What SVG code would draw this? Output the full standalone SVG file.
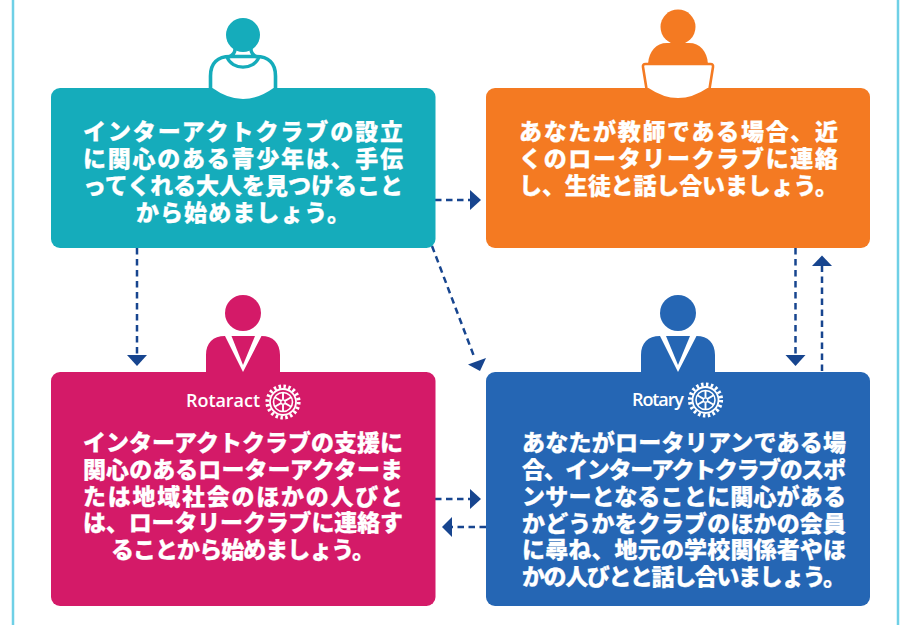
<svg xmlns="http://www.w3.org/2000/svg" width="912" height="625" viewBox="0 0 912 625">
<style>
.t{font-family:"Noto Sans CJK JP","Noto Sans",sans-serif;font-weight:900;font-size:23px;fill:#fff;stroke:#fff;stroke-width:.25}
.m{text-anchor:middle}
.l{font-family:"Open Sans","Liberation Sans",sans-serif;font-weight:600;font-size:18px;fill:#fff}
.c{fill:none;stroke:#17458f;stroke-width:2.5;stroke-dasharray:6.5 4.5}
.h{fill:#17458f}
</style>
<defs>
<g id="gear" fill="none" stroke="#fff">
<circle r="15.6" stroke-width="4" stroke-dasharray="2.45 2.45"/>
<circle r="13" stroke-width="1.8"/>
<circle r="9.5" stroke-width="1.6"/>
<circle r="2.2" stroke-width="1.3"/>
<path d="M0-9.5V-2.2M0 9.5V2.2M-8.2-4.7-1.9-1.1M8.2-4.7 1.9-1.1M-8.2 4.7-1.9 1.1M8.2 4.7 1.9 1.1" stroke-width="1.9"/>
</g>
</defs>
<rect x="13" y="-20" width="885" height="680" rx="8" fill="none" stroke="#6fd0e6" stroke-width="2.5"/>
<g id="connectors">
<path class="c" d="M435 200H470"/><path class="h" d="M470 190L481 200L470 210Z"/>
<path class="c" d="M432 246L475 359"/><path class="h" d="M468 364.500L486 358L480 371Z"/>
<path class="c" d="M137 248V355"/><path class="h" d="M127 355H147L137 366Z"/>
<path class="c" d="M795.500 248V355"/><path class="h" d="M785.500 355H805.500L795.500 366Z"/>
<path class="c" d="M822 371V266"/><path class="h" d="M812 266H832L822 255.500Z"/>
<path class="c" d="M435 499H470"/><path class="h" d="M470 489L481 499L470 509Z"/>
<path class="c" d="M486 527H452"/><path class="h" d="M452 517L442 527L452 537Z"/>
</g>
<g id="teal">
<path d="M210.500 90V76C210.500 63 218 56.500 230 56.500H256C268 56.500 275.500 63 275.500 76V90" fill="#fff" stroke="#15acbb" stroke-width="3.6"/>
<path d="M227 57C232 70.500 254 70.500 259 57" fill="none" stroke="#15acbb" stroke-width="3.4"/>
<path d="M235 48Q235.500 54 229 57M251 48Q250.500 54 257 57" fill="none" stroke="#15acbb" stroke-width="3.4"/>
<circle cx="243" cy="35" r="17" fill="#15acbb"/>
<rect x="51" y="88" width="384.500" height="160" rx="9" fill="#15acbb"/>
<path d="M212.500 88Q243 110 273.500 88Z" fill="#fff"/>
<text class="t" x="83" y="140" textLength="320">インターアクトクラブの設立</text>
<text class="t" x="83" y="167" textLength="320">に関心のある青少年は、手伝</text>
<text class="t" x="83" y="194" textLength="320">ってくれる大人を見つけること</text>
<text class="t m" x="243" y="221" textLength="214">から始めましょう。</text>
</g>
<g id="orange">
<circle cx="678" cy="27" r="17.500" fill="#f47a22"/>
<path d="M648 64C649 51 656 43 667 43H689C700 43 707 51 708 64Z" fill="#f47a22"/>
<path d="M645.500 64H710.500Q713.500 64 713 67L709 92H647L643 67Q642.500 64 645.500 64Z" fill="#fff" stroke="#f47a22" stroke-width="2.6"/>
<rect x="486" y="88" width="384" height="160" rx="9" fill="#f47a22"/>
<path d="M648.500 88Q678 108 707.500 88Z" fill="#fff"/>
<text class="t" x="519" y="140" textLength="319">あなたが教師である場合、近</text>
<text class="t" x="519" y="167" textLength="319">くのロータリークラブに連絡</text>
<text class="t" x="519" y="194" textLength="319">し、生徒と話し合いましょう。</text>
</g>
<g id="magenta">
<circle cx="243" cy="313" r="18" fill="#d41a68"/>
<path d="M206 373V355C206 343 213 336 225 336L243 372L261.500 336C273 336 280 343 280 355V373Z" fill="#d41a68"/>
<path d="M231.500 336H255L243 365Z" fill="#d41a68"/>
<rect x="51" y="372" width="384.500" height="234" rx="9" fill="#d41a68"/>
<text class="l" x="186" y="407" textLength="74">Rotaract</text>
<use href="#gear" x="283" y="402"/>
<text class="t" x="83" y="451" textLength="320">インターアクトクラブの支援に</text>
<text class="t" x="83" y="478" textLength="320">関心のあるローターアクターま</text>
<text class="t" x="83" y="504.500" textLength="320">たは地域社会のほかの人びと</text>
<text class="t" x="83" y="531" textLength="320">は、ロータリークラブに連絡す</text>
<text class="t m" x="243" y="558" textLength="264">ることから始めましょう。</text>
</g>
<g id="blue">
<circle cx="678" cy="313" r="18" fill="#2566b4"/>
<path d="M641 373V355C641 343 648 336 660 336L678 372L696.500 336C708 336 715 343 715 355V373Z" fill="#2566b4"/>
<path d="M666 336H690L678 365Z" fill="#2566b4"/>
<rect x="486" y="372" width="384" height="234" rx="9" fill="#2566b4"/>
<text class="l" x="632" y="406" textLength="52">Rotary</text>
<use href="#gear" x="705.500" y="400"/>
<text class="t" x="522" y="451" textLength="324">あなたがロータリアンである場</text>
<text class="t" x="522" y="478" textLength="324">合、インターアクトクラブのスポ</text>
<text class="t" x="522" y="505" textLength="324">ンサーとなることに関心がある</text>
<text class="t" x="522" y="531.500" textLength="324">かどうかをクラブのほかの会員</text>
<text class="t" x="522" y="558" textLength="324">に尋ね、地元の学校関係者やほ</text>
<text class="t" x="522" y="585" textLength="324">かの人びとと話し合いましょう。</text>
</g>
</svg>
